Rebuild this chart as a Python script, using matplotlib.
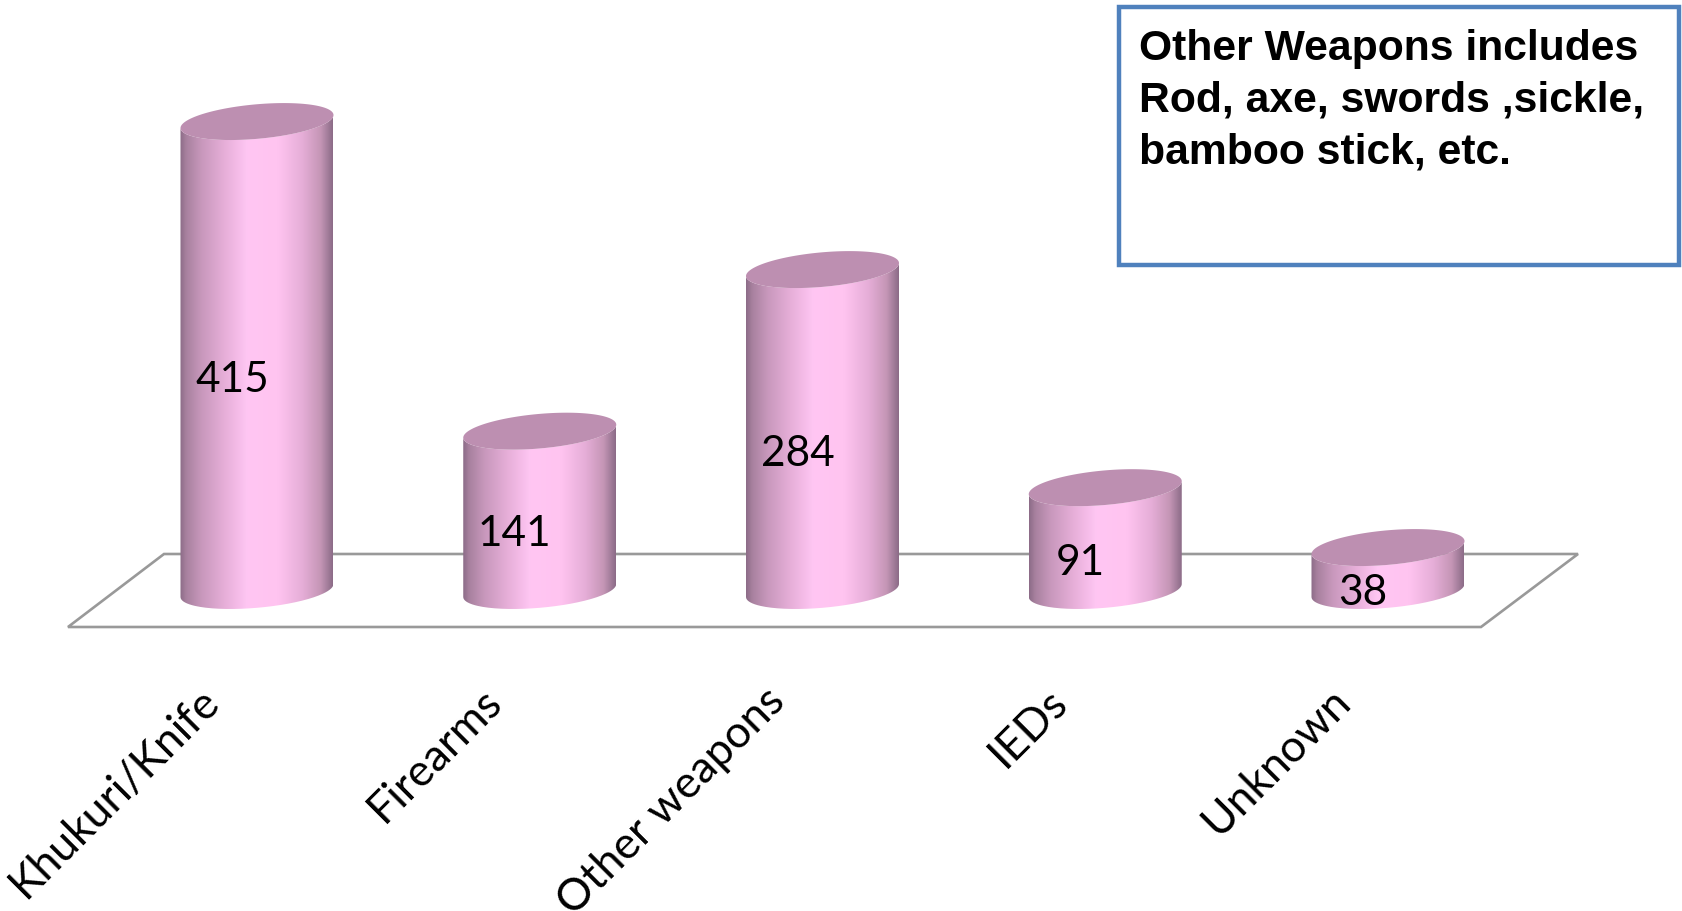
import numpy as np
import matplotlib
matplotlib.use("Agg")
import matplotlib.pyplot as plt
from matplotlib.colors import LinearSegmentedColormap
from matplotlib.patches import PathPatch, Polygon, Rectangle
from matplotlib.path import Path

categories = ["Khukuri/Knife", "Firearms", "Other weapons", "IEDs", "Unknown"]
values = [415, 141, 284, 91, 38]
note_lines = ["Other Weapons includes", "Rod, axe, swords ,sickle,", "bamboo stick, etc."]

W, H = 1683, 912
X0, DX = 257.0, 282.75      # px of first category, px per category
Y0, PPU = 591.5, 1.13       # px of zero, px per unit
HALF_W = 76.5               # px
B, K = 17.3, 6.5            # ellipse half-height and tilt, px

fig = plt.figure(figsize=(W / 100, H / 100), dpi=100, facecolor="white")
ax = fig.add_axes([0, 0, 1, 1])
ax.set_xlim(-X0 / DX, (W - X0) / DX)
ax.set_ylim((Y0 - H) / PPU, Y0 / PPU)
ax.axis("off")

hw, bu, ku = HALF_W / DX, B / PPU, K / PPU
cmap = LinearSegmentedColormap.from_list("cyl", [
    (0.00, "#8c6c88"), (0.04, "#a8819f"), (0.14, "#c898bc"), (0.30, "#e8b0da"),
    (0.44, "#ffc6f3"), (0.64, "#ffc4f0"), (0.80, "#e6aed8"), (0.92, "#c596b6"),
    (1.00, "#8c6c88")])
grad = np.linspace(0, 1, 256)[None, :]
t = np.linspace(0, 2 * np.pi, 181)


def rim(x, v, tt):
    return x + hw * np.cos(tt), v + bu * np.sin(tt) + ku * np.cos(tt)


# floor
floor_px = [(164, 555), (68, 628), (1481, 628), (1578, 555)]
floor = [((px - X0) / DX, (Y0 - py) / PPU) for px, py in floor_px]
ax.add_patch(Polygon(floor, closed=True, fill=False, ec="#999999", lw=1.9, zorder=1))

for i, (name, val) in enumerate(zip(categories, values)):
    tb = np.linspace(np.pi, 2 * np.pi, 91)
    xb, yb = rim(i, 0, tb)          # front of base
    xt, yt = rim(i, val, tb[::-1])  # front of top, reversed
    verts = np.r_[np.c_[xb, yb], np.c_[xt, yt], [[xb[0], yb[0]]]]
    body = Path(verts)
    ext = [i - hw, i + hw, -bu - ku, val + bu + ku]
    im = ax.imshow(grad, extent=ext, cmap=cmap, vmin=0, vmax=1, aspect="auto",
                   interpolation="bilinear", zorder=2 + i * 0.01)
    im.set_clip_path(PathPatch(body, transform=ax.transData))
    x, y = rim(i, val, t)
    ax.fill(x, y, color="#bd8fb1", lw=0, zorder=3)

# value labels
for i, val in enumerate(values):
    ax.annotate(str(val), (i, val / 2), xytext=(-25, -22.5), textcoords="offset pixels",
                ha="center", va="center", fontsize=30.5, family="Lato", color="black", zorder=4)

# category labels
for i, name in enumerate(categories):
    ax.annotate(name, (i, 0), xytext=(-59, -89), textcoords="offset pixels",
                rotation=45, rotation_mode="anchor", ha="right", va="top",
                fontsize=32, family="Lato", color="black", zorder=4)

# note box
ax_tr = fig.transFigure
fig.add_artist(Rectangle((1119 / W, 1 - 265.5 / H), 560 / W, 257.5 / H, transform=ax_tr,
                         fc="white", ec="#4f81bd", lw=3.2))
for j, line in enumerate(note_lines):
    fig.text(1139 / W, 1 - (49 + j * 51.8) / H, line, transform=ax_tr, fontsize=30.7,
             family="Liberation Sans", weight="bold", va="center", ha="left", color="black")

fig.savefig("out.png", dpi=100)
